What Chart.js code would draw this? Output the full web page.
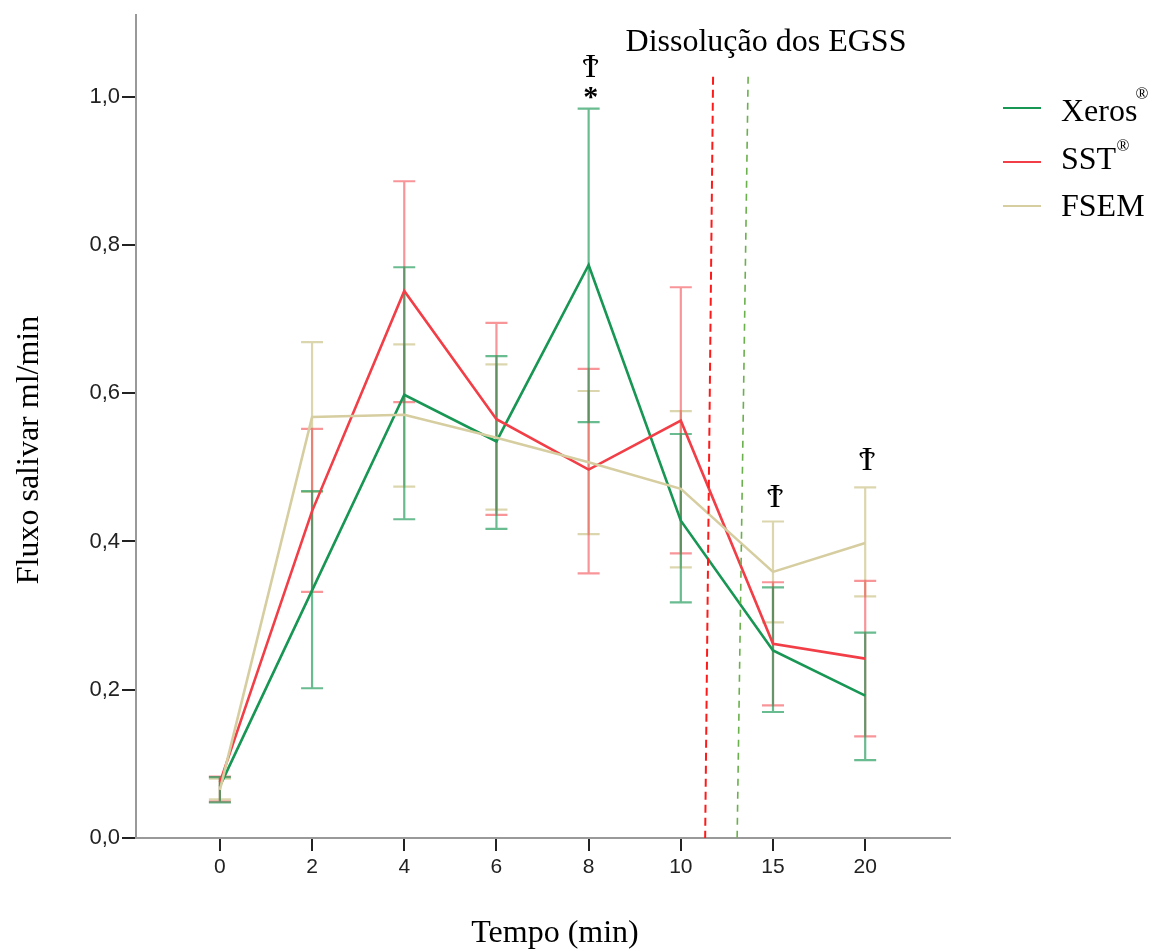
<!DOCTYPE html>
<html>
<head>
<meta charset="utf-8">
<script src="https://cdn.jsdelivr.net/npm/chart.js@4.4.1/dist/chart.umd.min.js"></script>
<style>
  html, body { margin: 0; padding: 0; background: #fff; }
  #wrap { width: 1153px; height: 951px; position: relative; }
</style>
</head>
<body>
<div id="wrap"><canvas id="fluxoChart"></canvas></div>
<script>
// Dados
const tempos = ['0', '2', '4', '6', '8', '10', '15', '20'];
const yTicks = [0, 0.2, 0.4, 0.6, 0.8, 1.0];

const xerosMedia = [0.070, 0.334, 0.598, 0.535, 0.773, 0.428, 0.253, 0.192];
const xerosSup   = [0.082, 0.468, 0.770, 0.650, 0.984, 0.545, 0.338, 0.277];
const xerosInf   = [0.048, 0.202, 0.430, 0.417, 0.561, 0.318, 0.170, 0.105];

const sstMedia = [0.075, 0.441, 0.738, 0.565, 0.497, 0.563, 0.262, 0.242];
const sstSup   = [0.083, 0.552, 0.886, 0.695, 0.633, 0.743, 0.345, 0.347];
const sstInf   = [0.049, 0.332, 0.588, 0.436, 0.357, 0.384, 0.179, 0.137];

const fsemMedia = [0.065, 0.568, 0.571, 0.540, 0.507, 0.471, 0.359, 0.398];
const fsemSup   = [0.080, 0.669, 0.666, 0.639, 0.603, 0.576, 0.427, 0.473];
const fsemInf   = [0.052, 0.467, 0.474, 0.443, 0.410, 0.365, 0.291, 0.326];

// marcas de significância (índice do tempo, valor em y, símbolo)
const marcas = [
  { i: 4, y: 1.038, txt: 'Ϯ' },
  { i: 4, y: 0.998, txt: '*' },
  { i: 6, y: 0.458, txt: 'Ϯ' },
  { i: 7, y: 0.508, txt: 'Ϯ' }
];

// linhas tracejadas da dissolução (em unidades de dados)
const dissolucao = [
  { xTop: 5.35, xBot: 5.264, cor: '#ff1a1a', dash: [8, 5], largura: 2 },
  { xTop: 5.73, xBot: 5.611, cor: '#6ab04c', dash: [7, 6], largura: 1.6 }
];
const dissolucaoTopo = 1.027;

const cores = {
  xeros: 'rgb(24, 150, 84)',
  sst: 'rgb(242, 62, 70)',
  fsem: 'rgb(214, 206, 160)'
};
const coresErro = {
  xeros: 'rgba(24, 150, 84, 0.65)',
  sst: 'rgba(242, 62, 70, 0.55)',
  fsem: 'rgba(205, 196, 140, 0.7)'
};

const fonteSerif = '"Liberation Serif", "Times New Roman", serif';

function pontos(arr) {
  return arr.map((v, i) => ({ x: i, y: v }));
}

const series = [
  { nome: 'fsem', media: fsemMedia, sup: fsemSup, inf: fsemInf },
  { nome: 'sst', media: sstMedia, sup: sstSup, inf: sstInf },
  { nome: 'xeros', media: xerosMedia, sup: xerosSup, inf: xerosInf }
];

// Plugin para barras de erro
const barrasErro = {
  id: 'barrasErro',
  beforeDatasetsDraw(chart) {
    const ctx = chart.ctx, xs = chart.scales.x, ys = chart.scales.y;
    ctx.save();
    series.forEach(s => {
      ctx.strokeStyle = coresErro[s.nome];
      ctx.lineWidth = 2.2;
      s.media.forEach((m, i) => {
        const px = xs.getPixelForValue(i);
        const pTop = ys.getPixelForValue(s.sup[i]);
        const pBot = ys.getPixelForValue(s.inf[i]);
        ctx.beginPath();
        ctx.moveTo(px, pTop); ctx.lineTo(px, pBot);
        ctx.moveTo(px - 11, pTop); ctx.lineTo(px + 11, pTop);
        ctx.moveTo(px - 11, pBot); ctx.lineTo(px + 11, pBot);
        ctx.stroke();
      });
    });
    ctx.restore();
  }
};

// Plugin para anotações, legenda e títulos
const anotacoes = {
  id: 'anotacoes',
  afterDraw(chart) {
    const ctx = chart.ctx, xs = chart.scales.x, ys = chart.scales.y;
    ctx.save();

    // linhas tracejadas
    dissolucao.forEach(d => {
      ctx.strokeStyle = d.cor;
      ctx.lineWidth = d.largura;
      ctx.setLineDash(d.dash);
      ctx.beginPath();
      ctx.moveTo(xs.getPixelForValue(d.xTop), ys.getPixelForValue(dissolucaoTopo));
      ctx.lineTo(xs.getPixelForValue(d.xBot), ys.getPixelForValue(0));
      ctx.stroke();
    });
    ctx.setLineDash([]);

    ctx.fillStyle = '#000';
    ctx.textAlign = 'center';
    ctx.textBaseline = 'middle';
    ctx.font = '32px ' + fonteSerif;
    ctx.fillText('Dissolução dos EGSS', 766, 43);

    // símbolos
    marcas.forEach(m => {
      ctx.font = m.txt === '*' ? 'bold 30px ' + fonteSerif : '34px "DejaVu Serif", "Liberation Serif", serif';
      ctx.fillText(m.txt, xs.getPixelForValue(m.i) + 2, ys.getPixelForValue(m.y));
    });

    // títulos dos eixos
    ctx.font = '32px ' + fonteSerif;
    ctx.fillText('Tempo (min)', 555, 934);
    ctx.save();
    ctx.translate(30, 450);
    ctx.rotate(-Math.PI / 2);
    ctx.fillText('Fluxo salivar ml/min', 0, 0);
    ctx.restore();

    // legenda
    const itens = [
      { nome: 'xeros', txt: 'Xeros', y: 108, ty: 113, reg: [1142, 95] },
      { nome: 'sst', txt: 'SST', y: 162, ty: 161, reg: [1123, 147] },
      { nome: 'fsem', txt: 'FSEM', y: 206, ty: 208, reg: null }
    ];
    ctx.textAlign = 'left';
    itens.forEach(it => {
      ctx.strokeStyle = cores[it.nome];
      ctx.lineWidth = 2;
      ctx.beginPath();
      ctx.moveTo(1003, it.y); ctx.lineTo(1041, it.y);
      ctx.stroke();
      ctx.fillStyle = '#000';
      ctx.font = '32px ' + fonteSerif;
      ctx.fillText(it.txt, 1061, it.ty);
      if (it.reg) {
        ctx.font = '17px ' + fonteSerif;
        ctx.textAlign = 'center';
        ctx.fillText('®', it.reg[0], it.reg[1]);
        ctx.textAlign = 'left';
      }
    });
    ctx.restore();
  }
};

const conjunto = (nome, dados) => ({
  label: nome,
  data: pontos(dados),
  borderColor: cores[nome],
  borderWidth: 2.6,
  pointRadius: 0,
  tension: 0,
  fill: false
});

new Chart(document.getElementById('fluxoChart'), {
  type: 'line',
  data: {
    datasets: [
      conjunto('fsem', fsemMedia),
      conjunto('sst', sstMedia),
      conjunto('xeros', xerosMedia)
    ]
  },
  options: {
    responsive: true,
    maintainAspectRatio: false,
    animation: false,
    layout: { padding: { top: 8, right: 203, left: 0, bottom: 0 } },
    plugins: {
      legend: { display: false },
      tooltip: { enabled: false }
    },
    scales: {
      x: {
        type: 'linear',
        min: -0.91,
        max: 7.92,
        afterBuildTicks: scale => { scale.ticks = tempos.map((t, i) => ({ value: i })); },
        afterFit: scale => { scale.height = 951 - 838; },
        ticks: {
          callback: v => tempos[v],
          color: '#222',
          font: { family: '"Liberation Sans", Arial, sans-serif', size: 21 },
          padding: 4,
          maxRotation: 0
        },
        grid: { drawOnChartArea: false, drawTicks: true, tickLength: 13, color: '#222', lineWidth: 2 },
        border: { color: '#999', width: 2 }
      },
      y: {
        min: 0,
        max: 1.11,
        afterBuildTicks: scale => { scale.ticks = yTicks.map(v => ({ value: v })); },
        afterFit: scale => { scale.width = 136; },
        ticks: {
          callback: v => v.toFixed(1).replace('.', ','),
          color: '#222',
          font: { family: '"Liberation Sans", Arial, sans-serif', size: 22 },
          padding: 2
        },
        grid: { drawOnChartArea: false, drawTicks: true, tickLength: 14, color: '#222', lineWidth: 2 },
        border: { color: '#999', width: 2 }
      }
    }
  },
  plugins: [barrasErro, anotacoes]
});
</script>
</body>
</html>
